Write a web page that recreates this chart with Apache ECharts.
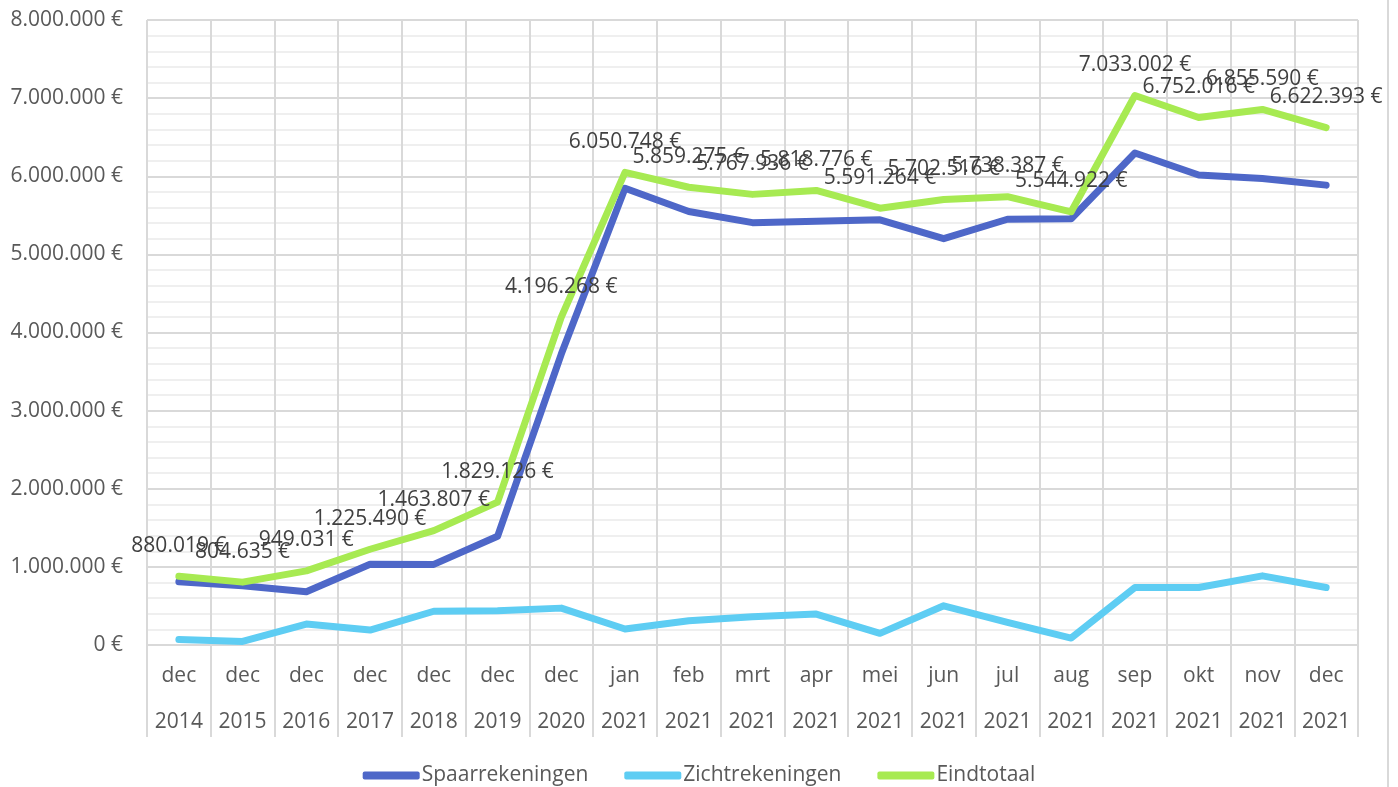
<!DOCTYPE html>
<html>
<head>
<meta charset="utf-8">
<script src="https://cdn.jsdelivr.net/npm/echarts@6/dist/echarts.min.js"></script>
<style>html,body{margin:0;padding:0;background:#fff;}#c{width:1398px;height:787px;}</style>
</head>
<body>
<div id="c"></div>
<script>
const months = ['dec','dec','dec','dec','dec','dec','dec','jan','feb','mrt','apr','mei','jun','jul','aug','sep','okt','nov','dec'];
const years = ['2014','2015','2016','2017','2018','2019','2020','2021','2021','2021','2021','2021','2021','2021','2021','2021','2021','2021','2021'];
const spaarrekeningen = [810000, 759600, 681000, 1034500, 1031800, 1391100, 3724300, 5845700, 5548300, 5405900, 5422800, 5442300, 5200500, 5449400, 5455900, 6297000, 6016000, 5970600, 5886400];
const zichtrekeningen = [70000, 45000, 268000, 191000, 432000, 438000, 472000, 205000, 311000, 362000, 396000, 149000, 502000, 289000, 89000, 736000, 736000, 885000, 736000];
const eindtotaal = [880019, 804635, 949031, 1225490, 1463807, 1829126, 4196268, 6050748, 5859275, 5767936, 5818776, 5591264, 5702516, 5738387, 5544922, 7033002, 6752016, 6855590, 6622393];

const categories = months.map((m, i) => m + ' ' + years[i]);
const fmt = v => String(Math.round(v)).replace(/\B(?=(\d{3})+(?!\d))/g, '.') + ' €';
const FONT = 'Open Sans';

const chart = echarts.init(document.getElementById('c'), null, {renderer: 'canvas'});
chart.setOption({
  animation: false,
  backgroundColor: '#ffffff',
  textStyle: {fontFamily: FONT},
  grid: {left: 147, right: 40, top: 20, bottom: 142, containLabel: false},
  legend: {
    top: 760,
    left: 'center',
    itemWidth: 57,
    itemHeight: 8,
    itemGap: 36,
    icon: 'roundRect',
    textStyle: {fontFamily: FONT, fontSize: 21, color: '#595959', padding: [0, 0, 0, -3]},
    data: ['Spaarrekeningen', 'Zichtrekeningen', 'Eindtotaal']
  },
  xAxis: {
    type: 'category',
    data: categories,
    boundaryGap: true,
    axisLine: {show: true, lineStyle: {color: '#d9d9d9', width: 2}},
    axisTick: {show: true, interval: 0, length: 92, lineStyle: {color: '#d9d9d9', width: 2}},
    axisLabel: {
      interval: 0,
      margin: 8,
      fontFamily: FONT,
      fontSize: 21,
      color: '#595959',
      lineHeight: 46,
      formatter: (v, i) => months[i] + '\n' + years[i]
    },
    splitLine: {show: true, interval: 0, lineStyle: {color: '#d9d9d9', width: 2}}
  },
  yAxis: {
    type: 'value',
    min: 0,
    max: 8000000,
    interval: 1000000,
    axisLine: {show: false},
    axisTick: {show: false},
    axisLabel: {margin: 24, fontFamily: FONT, fontSize: 21, color: '#595959', formatter: fmt},
    splitLine: {show: true, lineStyle: {color: '#d9d9d9', width: 2}},
    minorTick: {show: false, splitNumber: 5},
    minorSplitLine: {show: true, lineStyle: {color: '#efefef', width: 2}}
  },
  series: [
    {
      name: 'Spaarrekeningen', type: 'line', data: spaarrekeningen,
      symbol: 'none', color: '#4e67c8',
      lineStyle: {width: 7, color: '#4e67c8', cap: 'round', join: 'round'}
    },
    {
      name: 'Zichtrekeningen', type: 'line', data: zichtrekeningen,
      symbol: 'none', color: '#5ecdf3',
      lineStyle: {width: 7, color: '#5ecdf3', cap: 'round', join: 'round'}
    },
    {
      name: 'Eindtotaal', type: 'line', data: eindtotaal,
      symbol: 'circle', symbolSize: 0, showSymbol: true, color: '#a7ea52',
      lineStyle: {width: 7, color: '#a7ea52', cap: 'round', join: 'round'},
      label: {show: true, position: 'top', distance: 20, fontFamily: FONT, fontSize: 21, color: '#404040', formatter: p => fmt(p.value)},
      labelLayout: {hideOverlap: false}
    }
  ],
  graphic: [
    {type: 'line', shape: {x1: 1388, y1: 0, x2: 1388, y2: 787}, style: {stroke: '#d9d9d9', lineWidth: 2}, silent: true}
  ]
});
</script>
</body>
</html>
